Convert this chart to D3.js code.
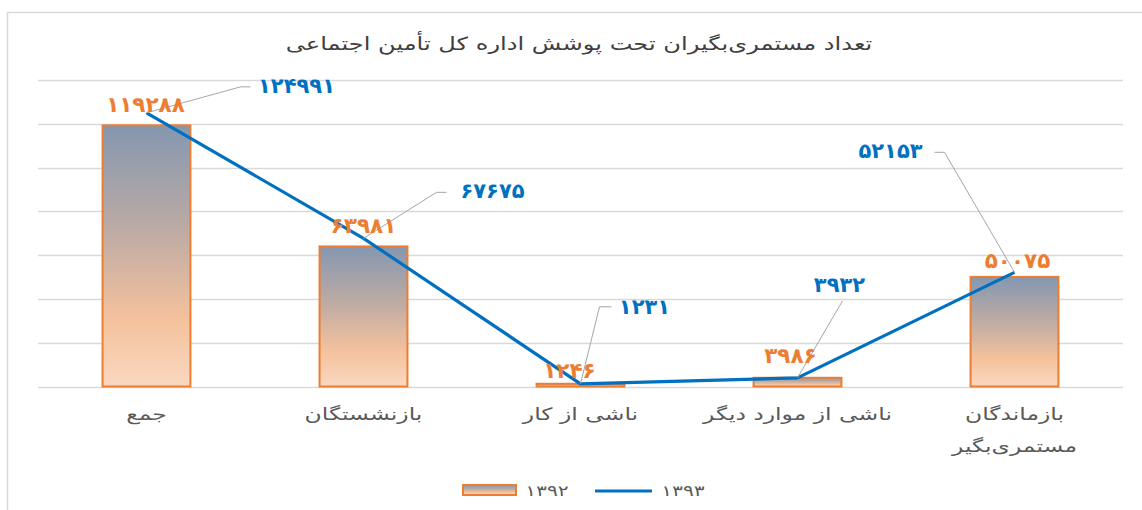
<!DOCTYPE html>
<html><head><meta charset="utf-8">
<script src="https://cdn.jsdelivr.net/npm/d3@7"></script>
<style>
html,body{margin:0;padding:0;background:#fff;}
svg{display:block;}
</style>
</head><body>
<svg id="chart" width="1142" height="510"></svg>
<script>
const title = "تعداد مستمری‌بگیران تحت پوشش اداره کل تأمین اجتماعی";
const categories = ["جمع", "بازنشستگان", "ناشی از کار", "ناشی از موارد دیگر", "بازماندگان مستمری‌بگیر"];
const tickLabels = [["جمع"], ["بازنشستگان"], ["ناشی از کار"], ["ناشی از موارد دیگر"], ["بازماندگان", "مستمری‌بگیر"]];
const values1392 = [119288, 63981, 1246, 3986, 50075];
const values1393 = [124991, 67675, 1231, 3932, 52153];
const seriesNames = ["۱۳۹۲", "۱۳۹۳"];
const yTicks = [0, 20000, 40000, 60000, 80000, 100000, 120000, 140000];

// label layout offsets (pixels) relative to data points
const barLabelOffsets = [[-1, -13], [0, -13], [-11, -6], [-7, -15], [3, -9]];
const lineLabelOffsets = [[150, -20], [129, -40], [64, -70], [42, -86], [-124, -114]];

const persian = n => String(n).replace(/\d/g, d => "۰۱۲۳۴۵۶۷۸۹"[d]);

const svg = d3.select("#chart");
const defs = svg.append("defs");
const grad = defs.append("linearGradient").attr("id", "barGrad")
  .attr("x1", 0).attr("y1", 0).attr("x2", 0).attr("y2", 1);
grad.append("stop").attr("offset", "0%").attr("stop-color", "#8497B0");
grad.append("stop").attr("offset", "40%").attr("stop-color", "#BDABA4");
grad.append("stop").attr("offset", "75%").attr("stop-color", "#F5C29D");
grad.append("stop").attr("offset", "100%").attr("stop-color", "#F9D8C1");

// stretch a text element horizontally by a factor (reference font is wider)
function stretch(sel, factor) {
  sel.each(function() {
    const nodes = this.querySelectorAll("tspan").length ? this.querySelectorAll("tspan") : [this];
    nodes.forEach(n => {
      const len = n.getComputedTextLength();
      n.setAttribute("textLength", len * factor);
      n.setAttribute("lengthAdjust", "spacingAndGlyphs");
    });
  });
}

// chart area border
svg.append("rect").attr("x", 7.5).attr("y", 12.5).attr("width", 1300).attr("height", 700)
  .attr("fill", "none").attr("stroke", "#D9D9D9").attr("stroke-width", 1.5);

const x = d3.scaleBand().domain(categories).range([38, 1123]).padding(0);
const y = d3.scaleLinear().domain([0, 140000]).range([386.5, 80]);
const barW = x.bandwidth() * 0.405;
const cx = c => x(c) + x.bandwidth() / 2;

// title
const t = svg.append("text").attr("x", 579).attr("y", 50).attr("text-anchor", "middle")
  .attr("direction", "rtl")
  .attr("font-family", "DejaVu Sans").attr("font-size", 18).attr("fill", "#404040")
  .text(title);
stretch(t, 1.34);

// gridlines
svg.append("g").selectAll("line").data(yTicks).join("line")
  .attr("x1", 38).attr("x2", 1123)
  .attr("y1", d => Math.round(y(d)) + 0.5).attr("y2", d => Math.round(y(d)) + 0.5)
  .attr("stroke", "#D9D9D9").attr("stroke-width", 1.5);

// bars
svg.append("g").selectAll("rect").data(categories).join("rect")
  .attr("x", c => cx(c) - barW / 2)
  .attr("y", (c, i) => y(values1392[i]))
  .attr("width", barW)
  .attr("height", (c, i) => y(0) - y(values1392[i]))
  .attr("fill", "url(#barGrad)")
  .attr("stroke", "#ED7D31").attr("stroke-width", 2);

// line
const pts = categories.map((c, i) => [cx(c), y(values1393[i])]);
svg.append("path").datum(pts).attr("d", d3.line())
  .attr("fill", "none").attr("stroke", "#0070C0").attr("stroke-width", 3.2)
  .attr("stroke-linejoin", "round");

// leader lines for line labels
const leaders = svg.append("g");
pts.forEach((p, i) => {
  const [dx, dy] = lineLabelOffsets[i];
  const lx = p[0] + dx, ly = p[1] + dy;
  let path;
  if (i === 3) {
    path = [[p[0], p[1]], [lx + 3, ly + 9]];
  } else if (i === 2) {
    path = [[p[0], p[1]], [lx - 45, ly - 7], [lx - 33, ly - 7]];
  } else if (dx > 0) {
    path = [[p[0], p[1]], [lx - 56, ly - 6], [lx - 46, ly - 6]];
  } else {
    path = [[p[0], p[1]], [lx + 54, ly - 6], [lx + 44, ly - 6]];
  }
  leaders.append("path").attr("d", d3.line()(path))
    .attr("fill", "none").attr("stroke", "#A6A6A6").attr("stroke-width", 1);
});

// bar value labels
svg.append("g").selectAll("text").data(categories).join("text")
  .attr("x", (c, i) => cx(c) + barLabelOffsets[i][0])
  .attr("y", (c, i) => y(values1392[i]) + barLabelOffsets[i][1])
  .attr("text-anchor", "middle")
  .attr("font-family", "DejaVu Sans").attr("font-weight", "bold")
  .attr("font-size", 21.5).attr("fill", "#ED7D31")
  .text((c, i) => persian(values1392[i]));

// line value labels
svg.append("g").selectAll("text").data(categories).join("text")
  .attr("x", (c, i) => pts[i][0] + lineLabelOffsets[i][0])
  .attr("y", (c, i) => pts[i][1] + lineLabelOffsets[i][1])
  .attr("text-anchor", "middle")
  .attr("font-family", "DejaVu Sans").attr("font-weight", "bold")
  .attr("font-size", 21).attr("fill", "#0070C0")
  .text((c, i) => persian(values1393[i]));

// category labels
const cat = svg.append("g").selectAll("text").data(categories).join("text")
  .attr("x", c => cx(c)).attr("y", 420)
  .attr("text-anchor", "middle").attr("direction", "rtl")
  .attr("font-family", "DejaVu Sans").attr("font-size", 17).attr("fill", "#595959");
cat.each(function(c, i) {
  d3.select(this).selectAll("tspan").data(tickLabels[i]).join("tspan")
    .attr("x", cx(c)).attr("dy", (d, j) => j === 0 ? 0 : 32).text(d => d);
});
stretch(cat, 1.38);

// legend
const lg = svg.append("g");
lg.append("rect").attr("x", 463).attr("y", 485).attr("width", 53).attr("height", 10)
  .attr("fill", "url(#barGrad)").attr("stroke", "#ED7D31").attr("stroke-width", 2);
const l1 = lg.append("text").attr("x", 547).attr("y", 496).attr("text-anchor", "middle")
  .attr("font-family", "DejaVu Sans").attr("font-size", 15)
  .attr("fill", "#595959").text(seriesNames[0]);
lg.append("line").attr("x1", 595).attr("x2", 652).attr("y1", 491).attr("y2", 491)
  .attr("stroke", "#0070C0").attr("stroke-width", 3);
const l2 = lg.append("text").attr("x", 683).attr("y", 496).attr("text-anchor", "middle")
  .attr("font-family", "DejaVu Sans").attr("font-size", 15)
  .attr("fill", "#595959").text(seriesNames[1]);
stretch(l1, 1.35);
stretch(l2, 1.35);
</script>
</body></html>
